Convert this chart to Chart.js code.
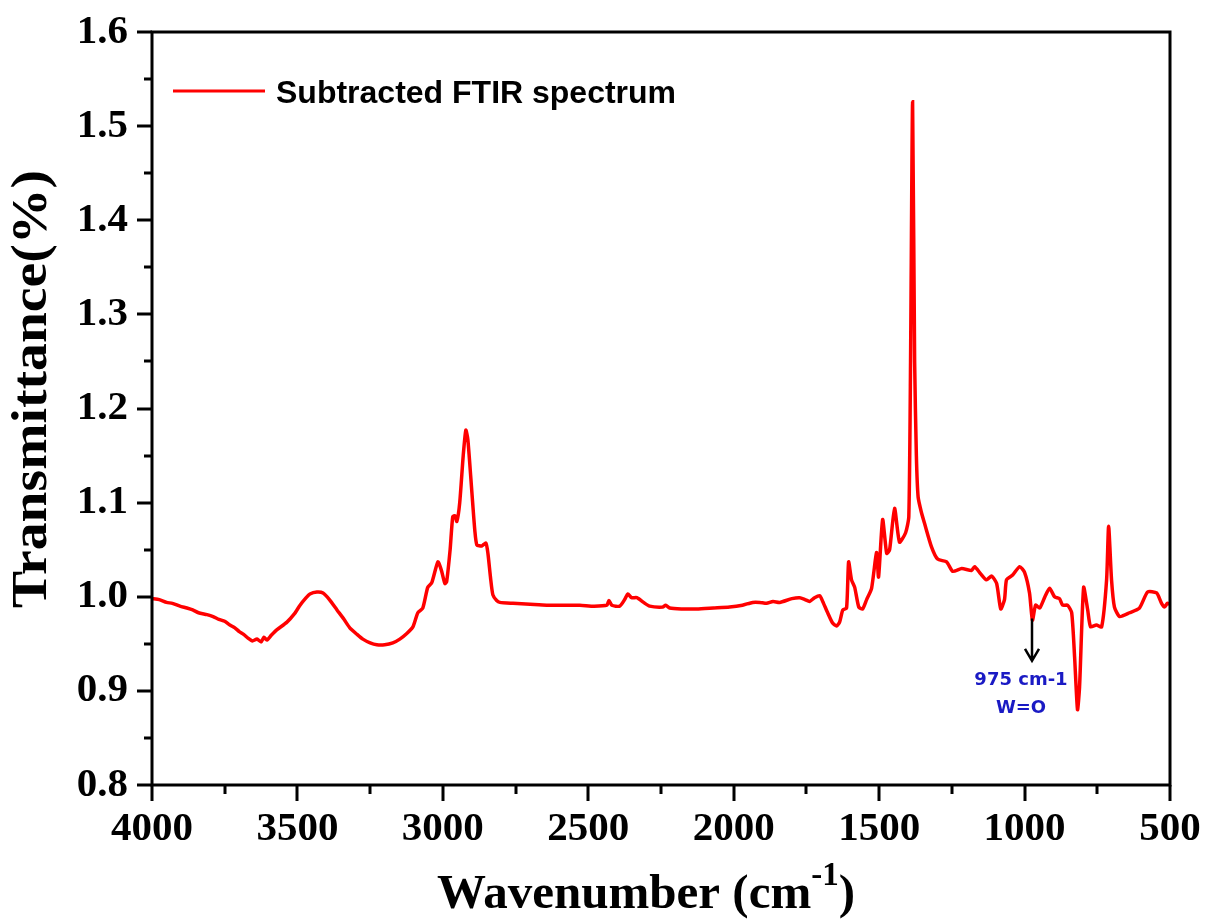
<!DOCTYPE html>
<html>
<head>
<meta charset="utf-8">
<title>Subtracted FTIR spectrum</title>
<script src="https://cdn.jsdelivr.net/npm/chart.js@4.4.1/dist/chart.umd.min.js"></script>
<style>
  html, body { margin: 0; padding: 0; background: #ffffff; }
  #wrap { width: 1208px; height: 919px; }
</style>
</head>
<body>
<div id="wrap"><canvas id="ftir" width="1208" height="919"></canvas></div>
<script>
// Spectrum data (wavenumber in cm-1, descending)
const wavenumbers = [
  4000, 3975, 3950, 3930, 3904, 3880, 3860, 3840, 3811, 3790, 3770, 3750,
  3732, 3715, 3700, 3685, 3670, 3655, 3639, 3625, 3615, 3605, 3590, 3570,
  3536, 3510, 3491, 3470, 3457, 3433, 3412, 3390, 3364, 3340, 3320, 3295,
  3275, 3250, 3227, 3200, 3172, 3148, 3124, 3103, 3086, 3069, 3052, 3038,
  3017, 3005, 2993, 2987, 2975, 2966, 2958, 2952, 2942, 2930, 2921, 2914,
  2900, 2890, 2883, 2866, 2852, 2845, 2836, 2828, 2815, 2804, 2759, 2700,
  2643, 2580, 2529, 2480, 2436, 2429, 2419, 2392, 2375, 2364, 2351, 2333,
  2310, 2289, 2244, 2234, 2220, 2180, 2127, 2070, 2014, 1970, 1935, 1910,
  1887, 1865, 1842, 1800, 1773, 1755, 1739, 1722, 1704, 1694, 1677, 1660,
  1646, 1636, 1625, 1612, 1605, 1595, 1584, 1570, 1557, 1543, 1526, 1509,
  1502, 1488, 1474, 1464, 1447, 1430, 1409, 1398, 1392, 1385, 1378, 1372,
  1366, 1355, 1344, 1320, 1299, 1268, 1247, 1216, 1182, 1172, 1150, 1131,
  1113, 1096, 1082, 1069, 1062, 1041, 1017, 1000, 983, 973, 962, 948,
  930, 914, 897, 880, 869, 852, 838, 828, 818, 811, 797, 783,
  773, 753, 735, 718, 711, 701, 691, 673, 639, 605, 577, 546,
  529, 519, 509, 500
];

const transmittance = [
  0.998, 0.997, 0.994, 0.993, 0.990, 0.988, 0.986, 0.983, 0.981, 0.979, 0.976, 0.974,
  0.970, 0.967, 0.963, 0.960, 0.956, 0.953, 0.955, 0.952, 0.957, 0.954, 0.959, 0.965,
  0.973, 0.982, 0.991, 0.999, 1.003, 1.005, 1.004, 0.997, 0.986, 0.976, 0.967, 0.960,
  0.955, 0.951, 0.949, 0.949, 0.951, 0.955, 0.961, 0.968, 0.983, 0.988, 1.010, 1.015,
  1.037, 1.028, 1.014, 1.016, 1.050, 1.085, 1.086, 1.080, 1.100, 1.150, 1.177, 1.167,
  1.110, 1.070, 1.055, 1.054, 1.057, 1.046, 1.020, 1.002, 0.996, 0.994, 0.993, 0.992,
  0.991, 0.991, 0.991, 0.990, 0.991, 0.996, 0.991, 0.990, 0.997, 1.003, 0.999, 0.999,
  0.994, 0.990, 0.989, 0.991, 0.988, 0.987, 0.987, 0.988, 0.989, 0.991, 0.994, 0.994,
  0.993, 0.995, 0.994, 0.998, 0.999, 0.997, 0.995, 0.999, 1.001, 0.995, 0.983, 0.972,
  0.969, 0.973, 0.986, 0.988, 1.037, 1.018, 1.010, 0.989, 0.987, 0.997, 1.009, 1.047,
  1.021, 1.082, 1.046, 1.050, 1.094, 1.058, 1.068, 1.085, 1.250, 1.526, 1.250, 1.150,
  1.106, 1.090, 1.078, 1.053, 1.040, 1.037, 1.027, 1.030, 1.028, 1.032, 1.024, 1.018,
  1.022, 1.014, 0.987, 0.997, 1.018, 1.023, 1.032, 1.026, 1.004, 0.975, 0.991, 0.988,
  1.000, 1.009, 1.000, 0.998, 0.991, 0.991, 0.983, 0.936, 0.880, 0.904, 1.010, 0.986,
  0.968, 0.970, 0.968, 1.018, 1.075, 1.018, 0.989, 0.979, 0.983, 0.988, 1.005, 1.004,
  0.993, 0.989, 0.993, 0.992
];

// Axis ticks
const xMajorTicks = [4000, 3500, 3000, 2500, 2000, 1500, 1000, 500];
const xMinorTicks = [3750, 3250, 2750, 2250, 1750, 1250, 750];
const yMajorTicks = [0.8, 0.9, 1.0, 1.1, 1.2, 1.3, 1.4, 1.5, 1.6];
const yMinorTicks = [0.85, 0.95, 1.05, 1.15, 1.25, 1.35, 1.45, 1.55];

// Peak annotation
const markerWavenumber = 975;
const markerLines = ['975 cm-1', 'W=O'];

const serif = '"Liberation Serif", "Times New Roman", serif';

// Draws frame, tick marks, titles, legend and the peak marker
const frameDecor = {
  id: 'frameDecor',
  afterDatasetsDraw(chart) {
    const ctx = chart.ctx;
    const area = chart.chartArea;
    const xs = chart.scales.x;
    const ys = chart.scales.y;

    ctx.save();
    ctx.strokeStyle = '#000';
    ctx.lineWidth = 3;
    ctx.lineCap = 'butt';

    // tick marks (outside, bottom and left)
    ctx.beginPath();
    xMajorTicks.forEach(v => {
      const px = Math.round(xs.getPixelForValue(v));
      ctx.moveTo(px, area.bottom);
      ctx.lineTo(px, area.bottom + 16);
    });
    xMinorTicks.forEach(v => {
      const px = Math.round(xs.getPixelForValue(v));
      ctx.moveTo(px, area.bottom);
      ctx.lineTo(px, area.bottom + 9);
    });
    yMajorTicks.forEach(v => {
      const py = Math.round(ys.getPixelForValue(v));
      ctx.moveTo(area.left, py);
      ctx.lineTo(area.left - 15, py);
    });
    yMinorTicks.forEach(v => {
      const py = Math.round(ys.getPixelForValue(v));
      ctx.moveTo(area.left, py);
      ctx.lineTo(area.left - 8, py);
    });
    ctx.stroke();

    // frame
    ctx.strokeRect(area.left, area.top, area.right - area.left, area.bottom - area.top);

    // legend
    const ds = chart.data.datasets[0];
    ctx.strokeStyle = ds.borderColor;
    ctx.lineWidth = 3;
    ctx.beginPath();
    ctx.moveTo(173, 91);
    ctx.lineTo(265, 91);
    ctx.stroke();
    ctx.fillStyle = '#000';
    ctx.font = 'bold 32px "Liberation Sans", Arial, sans-serif';
    ctx.textAlign = 'left';
    ctx.textBaseline = 'middle';
    ctx.fillText(ds.label, 276, 94);

    // x axis title with superscript
    ctx.textBaseline = 'alphabetic';
    const main = 'Wavenumber (cm';
    const sup = '-1';
    const close = ')';
    ctx.font = 'bold 49px ' + serif;
    const wMain = ctx.measureText(main).width;
    const wClose = ctx.measureText(close).width;
    ctx.font = 'bold 33px ' + serif;
    const wSup = ctx.measureText(sup).width;
    let tx = 646 - (wMain + wSup + wClose) / 2;
    const base = 908;
    ctx.font = 'bold 49px ' + serif;
    ctx.fillText(main, tx, base);
    tx += wMain;
    ctx.font = 'bold 33px ' + serif;
    ctx.fillText(sup, tx, base - 23);
    tx += wSup;
    ctx.font = 'bold 49px ' + serif;
    ctx.fillText(close, tx, base);

    // y axis title, stretched along its length
    ctx.save();
    ctx.translate(33, 389);
    ctx.rotate(-Math.PI / 2);
    ctx.font = 'bold 50px ' + serif;
    const yTitle = 'Transmittance(%)';
    const stretch = 438 / ctx.measureText(yTitle).width;
    ctx.scale(stretch, 1);
    ctx.textAlign = 'center';
    ctx.textBaseline = 'middle';
    ctx.fillText(yTitle, 0, 0);
    ctx.restore();

    // peak marker arrow
    const ax = Math.round(xs.getPixelForValue(markerWavenumber));
    const ay0 = ys.getPixelForValue(0.977);
    const ay1 = ys.getPixelForValue(0.932);
    ctx.strokeStyle = '#000';
    ctx.lineWidth = 2.5;
    ctx.beginPath();
    ctx.moveTo(ax, ay0);
    ctx.lineTo(ax, ay1);
    ctx.moveTo(ax - 7, ay1 - 12);
    ctx.lineTo(ax, ay1);
    ctx.lineTo(ax + 7, ay1 - 12);
    ctx.stroke();

    ctx.fillStyle = '#1a1ac4';
    ctx.font = 'bold 18px "DejaVu Sans", Verdana, sans-serif';
    ctx.textAlign = 'center';
    ctx.textBaseline = 'middle';
    const lx = ax - 11;
    ctx.fillText(markerLines[0], lx, ys.getPixelForValue(0.911));
    ctx.fillText(markerLines[1], lx, ys.getPixelForValue(0.881));

    ctx.restore();
  }
};

// keep tick labels from pushing the plot area inwards
function clearLabelPadding(scale) {
  scale.paddingTop = 0;
  scale.paddingBottom = 0;
  scale.paddingLeft = 0;
  scale.paddingRight = 0;
}

new Chart(document.getElementById('ftir'), {
  type: 'line',
  data: {
    datasets: [{
      label: 'Subtracted FTIR spectrum',
      data: wavenumbers.map((w, i) => ({ x: w, y: transmittance[i] })),
      borderColor: '#ff0000',
      borderWidth: 3.5,
      pointRadius: 0,
      tension: 0.2,
      fill: false
    }]
  },
  options: {
    responsive: false,
    animation: false,
    devicePixelRatio: 1,
    layout: {
      padding: { left: 0, right: 38, top: 32, bottom: 0 }
    },
    plugins: {
      legend: { display: false },
      tooltip: { enabled: false }
    },
    scales: {
      x: {
        type: 'linear',
        reverse: true,
        min: 500,
        max: 4000,
        grid: { display: false, drawTicks: false },
        border: { display: false },
        ticks: {
          stepSize: 500,
          color: '#000',
          font: { family: serif, size: 41, weight: 'bold' },
          padding: 20,
          maxRotation: 0,
          callback: v => String(v)
        },
        afterFit: scale => {
          scale.height = 134;
          clearLabelPadding(scale);
        }
      },
      y: {
        min: 0.8,
        max: 1.6,
        grid: { display: false, drawTicks: false },
        border: { display: false },
        ticks: {
          stepSize: 0.1,
          color: '#000',
          font: { family: serif, size: 41, weight: 'bold' },
          padding: 24,
          callback: v => v.toFixed(1)
        },
        afterFit: scale => {
          scale.width = 152;
          clearLabelPadding(scale);
        }
      }
    }
  },
  plugins: [frameDecor]
});
</script>
</body>
</html>
